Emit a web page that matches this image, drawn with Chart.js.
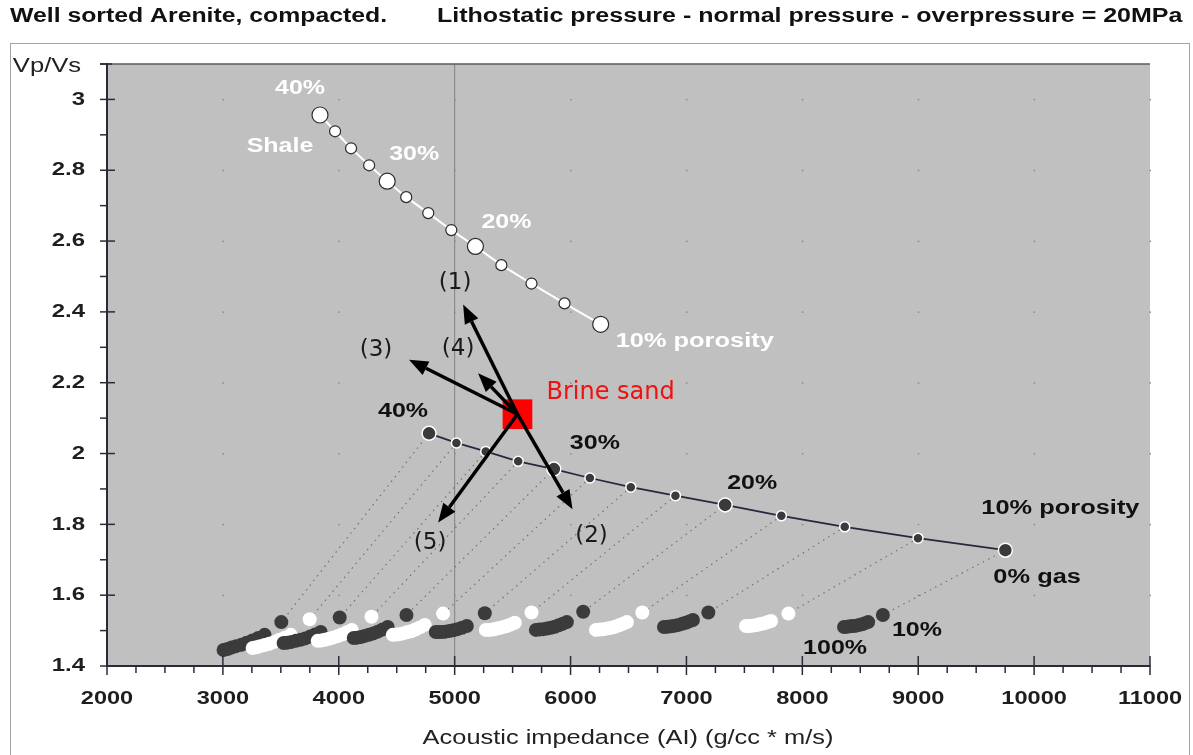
<!DOCTYPE html>
<html>
<head>
<meta charset="utf-8">
<title>Vp/Vs vs acoustic impedance</title>
<script src="https://cdn.jsdelivr.net/npm/chart.js@4.4.1/dist/chart.umd.min.js"></script>
<style>
  html, body { margin: 0; padding: 0; background: #fff; }
</style>
</head>
<body>
<canvas id="rockChart" width="1193" height="755"></canvas>
<script>
// Axis ticks
var xTicks = [2000, 3000, 4000, 5000, 6000, 7000, 8000, 9000, 10000, 11000];
var yTicks = [1.4, 1.6, 1.8, 2.0, 2.2, 2.4, 2.6, 2.8, 3.0];

// Porosity steps along both trends (%)
var porosity = [40, 37.5, 35, 32.5, 30, 27.5, 25, 22.5, 20, 17.5, 15, 12.5, 10];

// Shale trend
var shaleAI = [3838, 3968, 4106, 4262, 4418, 4582, 4772, 4971, 5179, 5403, 5663, 5948, 6260];
var shaleVpVs = [2.956, 2.910, 2.862, 2.814, 2.769, 2.724, 2.679, 2.631, 2.585, 2.532, 2.480, 2.424, 2.365];

// Brine saturated sand trend (0% gas)
var brineAI = [4779, 5015, 5268, 5548, 5856, 6167, 6520, 6905, 7334, 7819, 8366, 8998, 9752];
var brineVpVs = [2.057, 2.030, 2.006, 1.978, 1.956, 1.931, 1.905, 1.881, 1.855, 1.824, 1.793, 1.761, 1.727];

// Gas saturation steps (%) and the resulting points, one row per porosity
var gasSat = [10, 20, 30, 40, 50, 60, 70, 80, 90, 100];
var gasAI = [
  [3504, 3360, 3305, 3255, 3205, 3160, 3115, 3075, 3040, 3006],
  [3749, 3585, 3535, 3488, 3443, 3400, 3360, 3322, 3288, 3257],
  [4008, 3844, 3796, 3752, 3710, 3670, 3630, 3592, 3557, 3524],
  [4282, 4112, 4068, 4027, 3988, 3950, 3914, 3880, 3848, 3818],
  [4584, 4422, 4378, 4337, 4298, 4260, 4224, 4190, 4158, 4129],
  [4900, 4742, 4700, 4661, 4624, 4588, 4555, 4523, 4494, 4466],
  [5260, 5105, 5064, 5025, 4988, 4953, 4920, 4890, 4862, 4837],
  [5663, 5519, 5484, 5450, 5418, 5387, 5357, 5328, 5298, 5269],
  [6109, 5968, 5932, 5898, 5864, 5830, 5797, 5765, 5733, 5701],
  [6619, 6486, 6452, 6418, 6384, 6351, 6318, 6285, 6252, 6219],
  [7189, 7056, 7025, 6994, 6963, 6932, 6900, 6869, 6837, 6806],
  [7880, 7730, 7703, 7676, 7649, 7622, 7595, 7568, 7541, 7514],
  [8695, 8568, 8542, 8516, 8490, 8464, 8438, 8412, 8386, 8360]
];
var gasVpVs = [
  [1.524, 1.488, 1.479, 1.472, 1.466, 1.460, 1.456, 1.452, 1.448, 1.445],
  [1.532, 1.488, 1.480, 1.474, 1.468, 1.463, 1.459, 1.456, 1.453, 1.451],
  [1.537, 1.496, 1.489, 1.483, 1.478, 1.474, 1.471, 1.468, 1.466, 1.465],
  [1.539, 1.502, 1.495, 1.489, 1.484, 1.480, 1.477, 1.474, 1.472, 1.471],
  [1.544, 1.510, 1.503, 1.497, 1.492, 1.488, 1.485, 1.482, 1.480, 1.479],
  [1.548, 1.516, 1.509, 1.503, 1.498, 1.495, 1.492, 1.490, 1.489, 1.488],
  [1.549, 1.513, 1.508, 1.504, 1.501, 1.499, 1.497, 1.496, 1.496, 1.496],
  [1.551, 1.522, 1.517, 1.513, 1.510, 1.507, 1.505, 1.503, 1.502, 1.502],
  [1.553, 1.524, 1.519, 1.515, 1.511, 1.508, 1.506, 1.504, 1.503, 1.502],
  [1.551, 1.524, 1.519, 1.515, 1.511, 1.508, 1.506, 1.504, 1.503, 1.502],
  [1.551, 1.530, 1.526, 1.522, 1.519, 1.516, 1.514, 1.512, 1.511, 1.510],
  [1.548, 1.527, 1.524, 1.521, 1.519, 1.517, 1.515, 1.514, 1.513, 1.513],
  [1.544, 1.524, 1.521, 1.518, 1.516, 1.514, 1.513, 1.512, 1.511, 1.510]
];

// Brine sand reference point and the five arrows leaving it
var sandAI = [5542];
var sandVpVs = [2.111];
var arrowNames = ['(1)', '(2)', '(3)', '(4)', '(5)'];
var arrowAI = [5073, 6017, 4606, 5202, 4857];
var arrowVpVs = [2.421, 1.843, 2.265, 2.227, 1.805];

function pts(xs, ys) {
  return xs.map(function (x, i) { return { x: x, y: ys[i] }; });
}

// porosities marked with a bigger symbol
function bigAt(r1, r2) {
  return function (c) { return porosity[c.dataIndex] % 10 === 0 ? r1 : r2; };
}

var datasets = [];

// dotted paths from each brine point down to its 10% gas point
porosity.forEach(function (p, i) {
  datasets.push({
    data: [{ x: brineAI[i], y: brineVpVs[i] }, { x: gasAI[i][0], y: gasVpVs[i][0] }],
    showLine: true,
    borderColor: '#727272',
    borderWidth: 1.2,
    borderDash: [1.5, 4.5],
    pointRadius: 0,
    order: 90
  });
});

// gas clusters, alternating dark and white
porosity.forEach(function (p, i) {
  var col = i % 2 === 0 ? '#3b3b3b' : '#ffffff';
  datasets.push({
    data: pts(gasAI[i], gasVpVs[i]),
    pointRadius: 7,
    pointBackgroundColor: col,
    pointBorderWidth: 0,
    showLine: false,
    order: 70 - i
  });
});

datasets.push({
  label: 'Shale',
  data: pts(shaleAI, shaleVpVs),
  showLine: true,
  borderColor: '#ffffff',
  borderWidth: 2,
  pointRadius: bigAt(8, 5.5),
  pointBackgroundColor: '#ffffff',
  pointBorderColor: '#2a2a2a',
  pointBorderWidth: 1.2,
  order: 20
});

datasets.push({
  label: 'Brine sand trend',
  data: pts(brineAI, brineVpVs),
  showLine: true,
  borderColor: '#262840',
  borderWidth: 1.7,
  pointRadius: bigAt(7, 5),
  pointBackgroundColor: '#3a3a3a',
  pointBorderColor: '#ffffff',
  pointBorderWidth: 1.5,
  order: 10
});

datasets.push({
  label: 'Brine sand',
  data: pts(sandAI, sandVpVs),
  pointStyle: 'rect',
  pointRadius: 21,
  pointBackgroundColor: '#ff0000',
  pointBorderWidth: 0,
  order: 5
});

// draws text stretched horizontally by sx
function label(ctx, text, x, y, font, color, align, sx) {
  ctx.save();
  ctx.translate(x, y);
  ctx.scale(sx || 1, 1);
  ctx.font = font;
  ctx.fillStyle = color;
  ctx.textAlign = align || 'center';
  ctx.textBaseline = 'middle';
  ctx.fillText(text, 0, 0);
  ctx.restore();
}

function seg(ctx, x1, y1, x2, y2) {
  ctx.beginPath();
  ctx.moveTo(x1, y1);
  ctx.lineTo(x2, y2);
  ctx.stroke();
}

var BOLD = 'bold 20px "Liberation Sans", Arial, sans-serif';
var TICK = 'bold 19px "Liberation Sans", Arial, sans-serif';

var backdrop = {
  id: 'backdrop',
  beforeDraw: function (chart) {
    var ctx = chart.ctx, a = chart.chartArea;
    var xs = chart.scales.x, ys = chart.scales.y;
    ctx.save();
    ctx.fillStyle = '#ffffff';
    ctx.fillRect(0, 0, chart.width, chart.height);
    ctx.strokeStyle = '#a4a4a4';
    ctx.lineWidth = 1;
    ctx.strokeRect(10.5, 43.5, 1179, 730);
    ctx.fillStyle = '#c0c0c0';
    ctx.fillRect(a.left, a.top, a.right - a.left, a.bottom - a.top);
    // faint dots where the major grid would cross
    ctx.fillStyle = '#8a8a8a';
    xTicks.forEach(function (xv) {
      yTicks.forEach(function (yv) {
        ctx.fillRect(xs.getPixelForValue(xv) - 0.5, ys.getPixelForValue(yv) - 0.5, 1.5, 1.5);
      });
    });
    ctx.restore();
  }
};

var arrows = {
  id: 'arrows',
  afterDatasetsDraw: function (chart) {
    var ctx = chart.ctx, xs = chart.scales.x, ys = chart.scales.y;
    var x0 = xs.getPixelForValue(sandAI[0]), y0 = ys.getPixelForValue(sandVpVs[0]);
    ctx.save();
    ctx.strokeStyle = '#000';
    ctx.fillStyle = '#000';
    ctx.lineWidth = 3.5;
    arrowAI.forEach(function (ai, i) {
      var x1 = xs.getPixelForValue(ai), y1 = ys.getPixelForValue(arrowVpVs[i]);
      var ang = Math.atan2(y1 - y0, x1 - x0);
      var len = 19, half = 7.5;
      var bx = x1 - len * Math.cos(ang), by = y1 - len * Math.sin(ang);
      seg(ctx, x0, y0, bx, by);
      ctx.beginPath();
      ctx.moveTo(x1, y1);
      ctx.lineTo(bx + half * Math.sin(ang), by - half * Math.cos(ang));
      ctx.lineTo(bx - half * Math.sin(ang), by + half * Math.cos(ang));
      ctx.closePath();
      ctx.fill();
    });
    ctx.restore();
  }
};

var axesAndText = {
  id: 'axesAndText',
  afterDraw: function (chart) {
    var ctx = chart.ctx, a = chart.chartArea;
    var xs = chart.scales.x, ys = chart.scales.y;
    var px = function (v) { return xs.getPixelForValue(v); };
    var py = function (v) { return ys.getPixelForValue(v); };
    ctx.save();

    // frame of the plot area
    ctx.strokeStyle = '#5a5a5a';
    ctx.lineWidth = 1.5;
    seg(ctx, a.left, a.top, a.right, a.top);
    ctx.strokeStyle = '#2b2b38';
    ctx.lineWidth = 2;
    seg(ctx, a.left, a.top - 1, a.left, a.bottom + 1);
    seg(ctx, a.left, a.bottom, a.right, a.bottom);

    // y ticks: majors cross the axis, minors sit outside
    ctx.lineWidth = 1.5;
    yTicks.forEach(function (v) {
      seg(ctx, a.left - 7, py(v), a.left + 8, py(v));
      seg(ctx, a.left - 7, py(v + 0.1), a.left, py(v + 0.1));
      label(ctx, String(v), a.left - 22, py(v), TICK, '#1e1e1e', 'right', 1.26);
    });
    seg(ctx, a.left - 7, a.top, a.left + 5, a.top);

    // x ticks
    xTicks.forEach(function (v, i) {
      seg(ctx, px(v), a.bottom - 10, px(v), a.bottom + 9);
      if (i < xTicks.length - 1) {
        [250, 500, 750].forEach(function (d) {
          seg(ctx, px(v + d), a.bottom, px(v + d), a.bottom + 7);
        });
      }
      label(ctx, String(v), px(v), a.bottom + 33, TICK, '#1e1e1e', 'center', 1.24);
    });

    // titles
    label(ctx, 'Well sorted Arenite, compacted.', 10, 16, BOLD, '#111', 'left', 1.24);
    label(ctx, 'Lithostatic pressure - normal pressure - overpressure = 20MPa', 437, 16, BOLD, '#111', 'left', 1.25);
    label(ctx, 'Vp/Vs', 47, 66, '20px "Liberation Sans", Arial, sans-serif', '#222', 'center', 1.28);
    label(ctx, 'Acoustic impedance (AI) (g/cc * m/s)', 628, 738, '20px "Liberation Sans", Arial, sans-serif', '#222', 'center', 1.27);

    // shale trend labels
    var sx = function (i) { return px(shaleAI[i]); }, sy = function (i) { return py(shaleVpVs[i]); };
    label(ctx, '40%', sx(0) - 20, sy(0) - 27, BOLD, '#fff', 'center', 1.25);
    label(ctx, 'Shale', sx(0) - 40, sy(0) + 31, BOLD, '#fff', 'center', 1.25);
    label(ctx, '30%', sx(4) + 27, sy(4) - 27, BOLD, '#fff', 'center', 1.25);
    label(ctx, '20%', sx(8) + 31, sy(8) - 24, BOLD, '#fff', 'center', 1.25);
    label(ctx, '10% porosity', sx(12) + 15, sy(12) + 17, BOLD, '#fff', 'left', 1.27);

    // brine sand trend labels
    var bx = function (i) { return px(brineAI[i]); }, by = function (i) { return py(brineVpVs[i]); };
    label(ctx, '40%', bx(0) - 26, by(0) - 22, BOLD, '#111', 'center', 1.25);
    label(ctx, '30%', bx(4) + 41, by(4) - 26, BOLD, '#111', 'center', 1.25);
    label(ctx, '20%', bx(8) + 27, by(8) - 21, BOLD, '#111', 'center', 1.25);
    label(ctx, '10% porosity', bx(12) - 24, by(12) - 42, BOLD, '#111', 'left', 1.27);
    label(ctx, '0% gas', bx(12) - 12, by(12) + 27, BOLD, '#111', 'left', 1.27);

    // gas saturation labels on the 10% porosity cluster
    var last = porosity.length - 1;
    label(ctx, '100%', px(gasAI[last][9]) - 9, py(gasVpVs[last][9]) + 21, BOLD, '#111', 'center', 1.25);
    label(ctx, '10%', px(gasAI[last][0]) + 9, py(gasVpVs[last][0]) + 15, BOLD, '#111', 'left', 1.25);

    // brine sand point and arrow names
    label(ctx, 'Brine sand', px(sandAI[0]) + 29, py(sandVpVs[0]) - 21, '24px "DejaVu Sans", sans-serif', '#ee1111', 'left', 1);
    var off = [[-8, -21], [19, 27], [-33, -10], [-20, -24], [-8, 20]];
    arrowNames.forEach(function (n, i) {
      label(ctx, n, px(arrowAI[i]) + off[i][0], py(arrowVpVs[i]) + off[i][1], '23px "DejaVu Sans", sans-serif', '#1a1a1a', 'center', 1);
    });

    ctx.restore();
  }
};

new Chart(document.getElementById('rockChart').getContext('2d'), {
  type: 'scatter',
  data: { datasets: datasets },
  options: {
    responsive: false,
    animation: false,
    layout: { padding: { left: 0, right: 43, top: 64, bottom: 0 } },
    plugins: { legend: { display: false }, tooltip: { enabled: false } },
    scales: {
      x: {
        type: 'linear',
        min: 2000,
        max: 11000,
        afterBuildTicks: function (s) { s.ticks = xTicks.map(function (v) { return { value: v }; }); },
        afterFit: function (s) { s.height = 89; },
        ticks: { display: false },
        border: { display: false },
        grid: {
          drawTicks: false,
          lineWidth: 1.2,
          color: function (c) { return c.tick && c.tick.value === 5000 ? '#8c8c8c' : 'rgba(0,0,0,0)'; }
        }
      },
      y: {
        type: 'linear',
        min: 1.4,
        max: 3.1,
        afterBuildTicks: function (s) { s.ticks = yTicks.map(function (v) { return { value: v }; }); },
        afterFit: function (s) { s.width = 107; },
        ticks: { display: false },
        border: { display: false },
        grid: { display: false, drawTicks: false }
      }
    }
  },
  plugins: [backdrop, arrows, axesAndText]
});
</script>
</body>
</html>
